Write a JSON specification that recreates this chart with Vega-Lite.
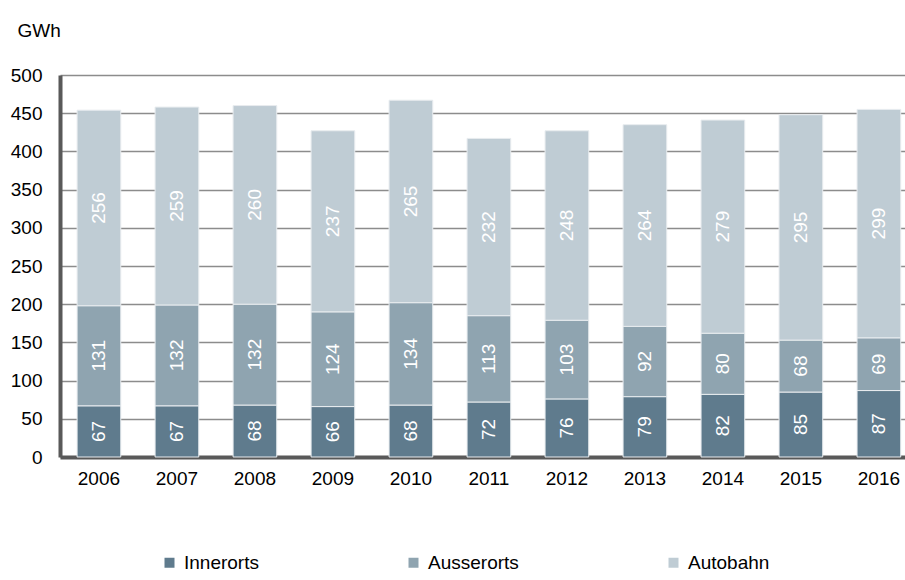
{
  "$schema": "https://vega.github.io/schema/vega-lite/v6.json",
  "width": 845,
  "height": 382,
  "autosize": {"type": "none"},
  "padding": {"left": 60, "top": 75, "right": 0, "bottom": 123},
  "background": "white",
  "config": {
    "font": "Liberation Sans",
    "view": {"stroke": null},
    "axisY": {
      "title": "GWh",
      "titleAngle": 0,
      "titleAlign": "left",
      "titleBaseline": "middle",
      "titleX": -43,
      "titleY": -45,
      "titleFontSize": 19,
      "titleFontWeight": "normal",
      "titleColor": "#000000",
      "labelFontSize": 19,
      "labelColor": "#000000",
      "labelPadding": 18,
      "labelOverlap": false,
      "ticks": false,
      "domainColor": "#595959",
      "domainWidth": 4,
      "gridColor": "#8c8c8c",
      "gridWidth": 1.5
    }
  },
  "data": {
    "values": [
      {"year": "2006", "cat": "Innerorts", "o": 1, "v": 67},
      {"year": "2006", "cat": "Ausserorts", "o": 2, "v": 131},
      {"year": "2006", "cat": "Autobahn", "o": 3, "v": 256},
      {"year": "2007", "cat": "Innerorts", "o": 1, "v": 67},
      {"year": "2007", "cat": "Ausserorts", "o": 2, "v": 132},
      {"year": "2007", "cat": "Autobahn", "o": 3, "v": 259},
      {"year": "2008", "cat": "Innerorts", "o": 1, "v": 68},
      {"year": "2008", "cat": "Ausserorts", "o": 2, "v": 132},
      {"year": "2008", "cat": "Autobahn", "o": 3, "v": 260},
      {"year": "2009", "cat": "Innerorts", "o": 1, "v": 66},
      {"year": "2009", "cat": "Ausserorts", "o": 2, "v": 124},
      {"year": "2009", "cat": "Autobahn", "o": 3, "v": 237},
      {"year": "2010", "cat": "Innerorts", "o": 1, "v": 68},
      {"year": "2010", "cat": "Ausserorts", "o": 2, "v": 134},
      {"year": "2010", "cat": "Autobahn", "o": 3, "v": 265},
      {"year": "2011", "cat": "Innerorts", "o": 1, "v": 72},
      {"year": "2011", "cat": "Ausserorts", "o": 2, "v": 113},
      {"year": "2011", "cat": "Autobahn", "o": 3, "v": 232},
      {"year": "2012", "cat": "Innerorts", "o": 1, "v": 76},
      {"year": "2012", "cat": "Ausserorts", "o": 2, "v": 103},
      {"year": "2012", "cat": "Autobahn", "o": 3, "v": 248},
      {"year": "2013", "cat": "Innerorts", "o": 1, "v": 79},
      {"year": "2013", "cat": "Ausserorts", "o": 2, "v": 92},
      {"year": "2013", "cat": "Autobahn", "o": 3, "v": 264},
      {"year": "2014", "cat": "Innerorts", "o": 1, "v": 82},
      {"year": "2014", "cat": "Ausserorts", "o": 2, "v": 80},
      {"year": "2014", "cat": "Autobahn", "o": 3, "v": 279},
      {"year": "2015", "cat": "Innerorts", "o": 1, "v": 85},
      {"year": "2015", "cat": "Ausserorts", "o": 2, "v": 68},
      {"year": "2015", "cat": "Autobahn", "o": 3, "v": 295},
      {"year": "2016", "cat": "Innerorts", "o": 1, "v": 87},
      {"year": "2016", "cat": "Ausserorts", "o": 2, "v": 69},
      {"year": "2016", "cat": "Autobahn", "o": 3, "v": 299}
    ]
  },
  "transform": [
    {"stack": "v", "groupby": ["year"], "sort": [{"field": "o", "order": "ascending"}], "as": ["v0", "v1"]},
    {"calculate": "(datum.v0 + datum.v1) / 2", "as": "mid"}
  ],
  "encoding": {
    "x": {
      "field": "year",
      "type": "nominal",
      "scale": {"paddingInner": 0.44, "paddingOuter": 0.137, "align": 0.8},
      "axis": {
        "title": null,
        "labelAngle": 0,
        "labelFontSize": 19,
        "labelColor": "#000000",
        "labelPadding": 12,
        "ticks": false,
        "domainColor": "#595959",
        "domainWidth": 4
      }
    }
  },
  "layer": [
    {
      "mark": {"type": "bar", "stroke": "#e8ecef", "strokeWidth": 1},
      "encoding": {
        "y": {
          "field": "v0",
          "type": "quantitative",
          "scale": {"domain": [0, 500], "nice": false},
          "axis": {"title": "GWh", "values": [0, 50, 100, 150, 200, 250, 300, 350, 400, 450, 500]}
        },
        "y2": {"field": "v1"},
        "color": {
          "field": "cat",
          "type": "nominal",
          "scale": {
            "domain": ["Innerorts", "Ausserorts", "Autobahn"],
            "range": ["#5f7b8d", "#8fa4b0", "#bfccd4"]
          },
          "legend": {
            "title": null,
            "orient": "none",
            "direction": "horizontal",
            "legendX": 100,
            "legendY": 478,
            "symbolType": "square",
            "symbolSize": 100,
            "symbolStrokeWidth": 0,
            "labelFontSize": 19,
            "labelColor": "#000000",
            "labelOffset": 5,
            "columnPadding": 145
          }
        }
      }
    },
    {
      "mark": {"type": "text", "angle": 270, "color": "white", "fontSize": 19, "align": "center", "baseline": "middle"},
      "encoding": {
        "y": {
          "field": "mid",
          "type": "quantitative",
          "axis": {"title": "GWh", "values": [0, 50, 100, 150, 200, 250, 300, 350, 400, 450, 500]}
        },
        "text": {"field": "v", "type": "quantitative"}
      }
    }
  ]
}
